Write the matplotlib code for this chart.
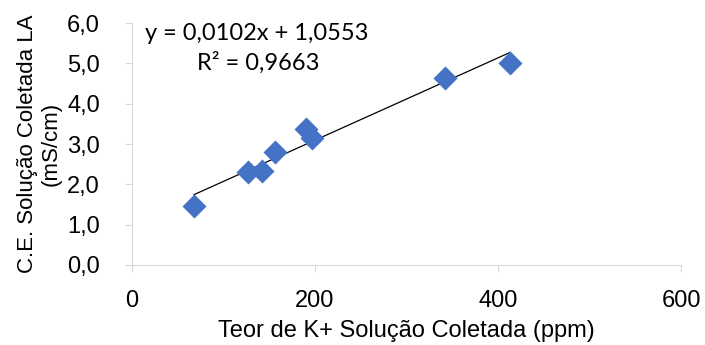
import numpy as np
import matplotlib.pyplot as plt

# Teor de K+ (ppm) vs C.E. (mS/cm)
teor_k = [68, 127, 142, 156, 190, 197, 342, 413]
ce_la = [1.46, 2.31, 2.34, 2.81, 3.38, 3.14, 4.65, 5.02]

x_ticks = [0, 200, 400, 600]
y_ticks = [0, 1, 2, 3, 4, 5, 6]
eq_text = "y = 0,0102x + 1,0553"
r2_text = "R² = 0,9663"

plt.rcParams['font.family'] = ['Liberation Sans', 'DejaVu Sans']

fig = plt.figure(figsize=(7.05, 3.45), dpi=100)
ax = fig.add_axes([0.187, 0.232, 0.779, 0.701])

ax.scatter(teor_k, ce_la, marker='D', s=150, color='#4472C4', zorder=3, linewidths=0)

# linear trendline across the data range
coef = np.polyfit(teor_k, ce_la, 1)
xs = np.array([min(teor_k), max(teor_k)])
ax.plot(xs, np.polyval(coef, xs), color='black', lw=0.9, zorder=2)

ax.set_xlim(0, 600)
ax.set_ylim(0, 6)
ax.set_xticks(x_ticks)
ax.set_yticks(y_ticks)
ax.set_yticklabels([f"{v:.1f}".replace('.', ',') for v in y_ticks])
ax.tick_params(axis='both', labelsize=17, colors='#D9D9D9', labelcolor='black', length=5)
ax.tick_params(axis='y', pad=18)
ax.tick_params(axis='x', pad=13)

for s in ['top', 'right']:
    ax.spines[s].set_visible(False)
for s in ['left', 'bottom']:
    ax.spines[s].set_color('#D9D9D9')

ax.set_xlabel("Teor de K+ Solução Coletada (ppm)", fontsize=17, labelpad=6)
ax.set_ylabel("C.E. Solução Coletada LA\n(mS/cm)", fontsize=16, labelpad=4, linespacing=1.15)

fig.text(145 / 705, 1 - 33 / 345, eq_text, fontsize=17, family=['Lato', 'DejaVu Sans'], va='center', ha='left')
fig.text(258 / 705, 1 - 63 / 345, r2_text, fontsize=17, family=['Lato', 'DejaVu Sans'], va='center', ha='center')

fig.savefig("out.png", dpi=100)
